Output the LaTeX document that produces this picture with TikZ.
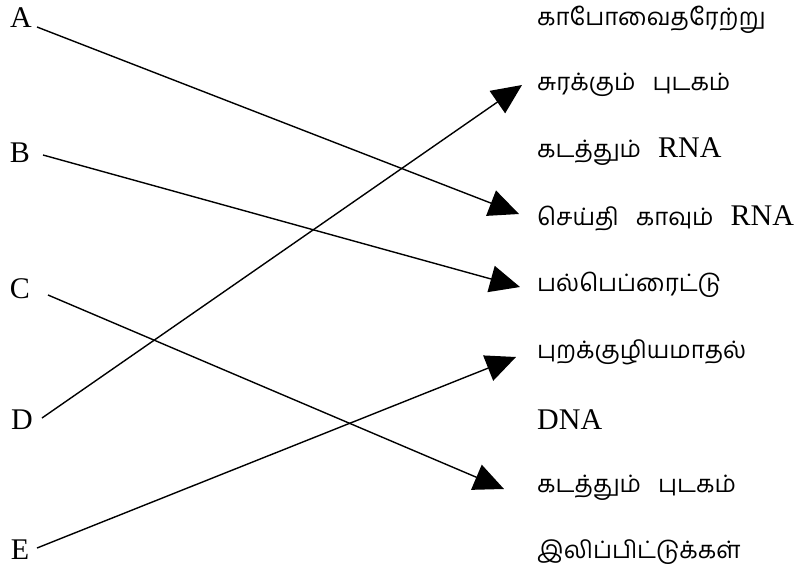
\documentclass[tikz,border=0pt]{standalone}
\usepackage{fontspec}
\setmainfont{Liberation Serif}
\newfontfamily\tamil[Script=Tamil]{Hind Madurai}
\usetikzlibrary{arrows.meta}
\newcommand{\wgap}{\hspace{17pt}}
\begin{document}
\begin{tikzpicture}[x=1pt,y=-1pt,
  lbl/.style={font=\fontsize{30}{34}\selectfont, inner sep=0pt},
  rtxt/.style={font=\fontsize{24}{28}\selectfont\tamil, anchor=west, inner sep=0pt},
  conn/.style={line width=1.4pt, -{Triangle[length=30pt,width=27pt]}}]
\useasboundingbox (0,0) rectangle (806,578);
\node[lbl] (A) at (21,18) {A};
\node[lbl] (B) at (20,153) {B};
\node[lbl] (C) at (20,289) {C};
\node[lbl] (D) at (22,420) {D};
\node[lbl] (E) at (20,550) {E};
\node[rtxt] (r1) at (537,20) {காபோவைதரேற்று};
\node[rtxt] (r2) at (537,85) {சுரக்கும்\wgap புடகம்};
\node[rtxt] (r3) at (537,152) {கடத்தும்\wgap{\rmfamily\fontsize{30}{34}\selectfont RNA}};
\node[rtxt] (r4) at (537,218) {செய்தி\wgap காவும்\wgap{\rmfamily\fontsize{30}{34}\selectfont RNA}};
\node[rtxt] (r5) at (537,285) {பல்பெப்ரைட்டு};
\node[rtxt] (r6) at (537,352) {புறக்குழியமாதல்};
\node[lbl, anchor=west] (r7) at (537,420) {DNA};
\node[rtxt] (r8) at (537,488) {கடத்தும்\wgap புடகம்};
\node[rtxt] (r9) at (537,552) {இலிப்பிட்டுக்கள்};
\coordinate (a1) at (37,27);
\coordinate (b1) at (43,155);
\coordinate (c1) at (48,295);
\coordinate (d1) at (42,418);
\coordinate (e1) at (37,548);
\coordinate (t4) at (519,214);
\coordinate (t5) at (520,287);
\coordinate (t8) at (504,489);
\coordinate (t2) at (522,85);
\coordinate (t6) at (516,357);
\draw[conn] (a1) -- (t4);
\draw[conn] (b1) -- (t5);
\draw[conn] (c1) -- (t8);
\draw[conn] (d1) -- (t2);
\draw[conn] (e1) -- (t6);
\end{tikzpicture}
\end{document}
